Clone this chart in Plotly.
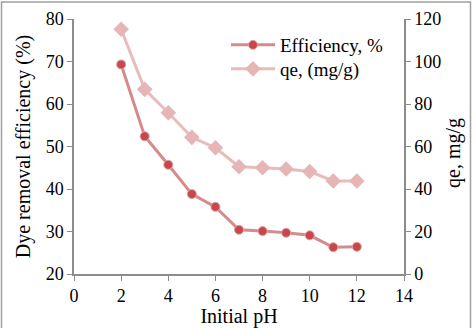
import plotly.graph_objects as go

ph = [2, 3, 4, 5, 6, 7, 8, 9, 10, 11, 12]
efficiency = [69.3, 52.4, 45.7, 38.8, 35.8, 30.4, 30.1, 29.7, 29.1, 26.3, 26.4]
qe = [115.2, 86.9, 75.9, 64.3, 59.4, 50.5, 50.0, 49.4, 48.2, 43.8, 43.8]

FONT = "'Liberation Serif', 'Times New Roman', serif"
AX = "#8c8c8c"

W, H = 476, 328
L, R, T, B = 74, 72, 19, 54
PW, PH = W - L - R, H - T - B


def px(x):
    return (x - L) / PW


def py(y):
    return (H - B - y) / PH


fig = go.Figure()
fig.add_trace(go.Scatter(
    x=ph, y=efficiency, name="Efficiency, %", mode="lines+markers",
    line=dict(color="#d68a8a", width=3),
    marker=dict(symbol="circle", size=9, color="#c8474c",
                line=dict(color="#e0a0a0", width=1)),
    legend="legend",
))
fig.add_trace(go.Scatter(
    x=ph, y=qe, name="qe, (mg/g)", mode="lines+markers", yaxis="y2",
    line=dict(color="#e8bcbc", width=3),
    marker=dict(symbol="diamond", size=12, color="#e6b5b6"),
    legend="legend2",
))

leg_common = dict(xanchor="left", yanchor="middle", bgcolor="rgba(0,0,0,0)",
                  font=dict(family=FONT, size=19, color="black"), itemwidth=44)

fig.update_layout(
    width=W, height=H,
    margin=dict(l=L, r=R, t=T, b=B, autoexpand=False),
    paper_bgcolor="white", plot_bgcolor="white",
    font=dict(family=FONT, size=18, color="black"),
    showlegend=True,
    legend=dict(x=px(226), y=py(45), **leg_common),
    legend2=dict(x=px(226), y=py(69), **leg_common),
    xaxis=dict(range=[0, 14], dtick=2, tick0=0, showgrid=False, zeroline=False,
               showline=True, linecolor=AX, linewidth=1.5,
               ticks="outside", ticklen=5, tickcolor=AX, automargin=False,
               tickfont=dict(family=FONT, size=18),
               title=dict(text="Initial pH", font=dict(family=FONT, size=20), standoff=3)),
    yaxis=dict(range=[20, 80], dtick=10, showgrid=False, zeroline=False,
               showline=True, linecolor=AX, linewidth=1.5,
               ticks="outside", ticklen=5, tickcolor=AX, automargin=False,
               tickfont=dict(family=FONT, size=18),
               title=dict(text="Dye removal efficiency (%)", font=dict(family=FONT, size=20), standoff=10)),
    yaxis2=dict(range=[0, 120], dtick=20, overlaying="y", side="right",
                showgrid=False, zeroline=False, automargin=False,
                showline=True, linecolor=AX, linewidth=1.5,
                ticks="outside", ticklen=5, tickcolor=AX,
                tickfont=dict(family=FONT, size=18)),
)

# outer frame of the picture
fig.add_shape(type="rect", xref="paper", yref="paper",
              x0=px(1.5), x1=px(470.5), y0=py(345), y1=py(2),
              line=dict(color="#a0a0a0", width=1.5), layer="above")

fig.add_annotation(text="qe, mg/g", textangle=-90, xref="paper", yref="paper",
                   x=px(453), y=py(153), showarrow=False,
                   font=dict(family=FONT, size=20), bgcolor="white",
                   xanchor="center", yanchor="middle")

fig.write_html("out.html")
